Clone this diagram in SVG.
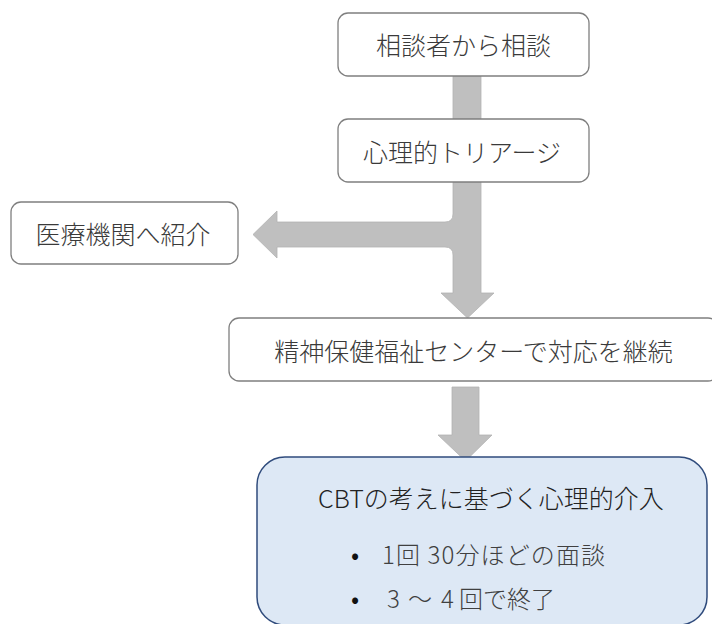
<svg xmlns="http://www.w3.org/2000/svg" width="712" height="624" viewBox="0 0 712 624">
<style>
.box{fill:#ffffff;stroke:#7f7f7f;stroke-width:1.3}
.blue{fill:#dde8f5;stroke:#2f4b7c;stroke-width:1.5}
.arr{fill:#bfbfbf;stroke:#b3b3b3;stroke-width:0.8}
text{font-family:"Noto Sans CJK JP","Noto Sans",sans-serif;fill:#3a3a3a;font-size:25px;font-weight:300;dominant-baseline:central}
.c{text-anchor:middle}
.b{font-size:24px;fill:#404040}
.dot{font-size:24px;fill:#111111;font-weight:400}
</style>
<rect width="712" height="624" fill="#ffffff"/>
<g id="connectors">
<rect class="arr" x="453" y="76" width="28" height="43"/>
<path class="arr" d="M453 182 L481 182 L481 293 L494 293 L467.5 318 L441 293 L453 293 L453 255 Q453 247 445 247 L277 247 L277 258 L253 234.5 L277 211 L277 222 L445 222 Q453 222 453 214 Z"/>
<path class="arr" d="M452 387 L479 387 L479 435 L492 435 L465.5 461 L438 435 L452 435 Z"/>
</g>
<g id="n1">
<rect class="box" x="338" y="13" width="251" height="63" rx="10"/>
<text class="c" x="463.5" y="44">相談者から相談</text>
</g>
<g id="n2">
<rect class="box" x="338" y="119" width="251" height="63" rx="10"/>
<text class="c" x="462" y="151">心理的トリアージ</text>
</g>
<g id="n3">
<rect class="box" x="11" y="202" width="227" height="62" rx="10"/>
<text class="c" x="123" y="233">医療機関へ紹介</text>
</g>
<g id="n4">
<rect class="box" x="229" y="318" width="489" height="63" rx="10"/>
<text class="c" x="473.5" y="350">精神保健福祉センターで対応を継続</text>
</g>
<g id="n5">
<rect class="blue" x="257" y="457" width="450" height="168" rx="28"/>
<text x="318" y="497" style="fill:#222222">CBTの考えに基づく心理的介入</text>
<text class="c dot" x="355" y="553">•</text>
<text class="b" x="382" y="553" textLength="223" lengthAdjust="spacing">1回 30分ほどの面談</text>
<text class="c dot" x="355" y="597">•</text>
<text class="b" y="597"><tspan x="387">3</tspan><tspan x="408">～</tspan><tspan x="441">4 </tspan><tspan x="459">回で終了</tspan></text>
</g>
</svg>
